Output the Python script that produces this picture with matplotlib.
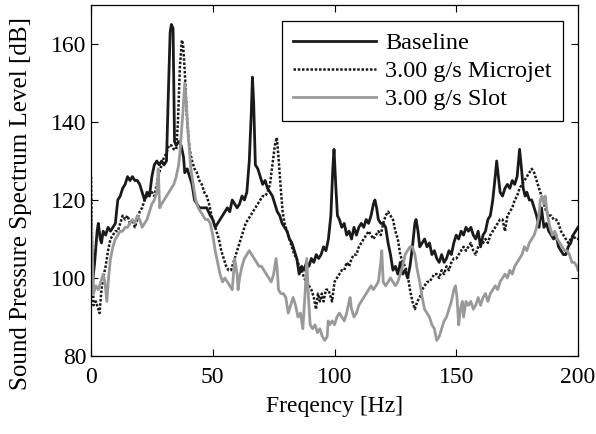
import numpy as np
import matplotlib
matplotlib.use("Agg")
import matplotlib.pyplot as plt

# Baseline (freq Hz, level dB)
base_f = [0, 0.5, 1.5, 2.5, 3, 3.8, 4.3, 5, 6, 7, 8, 9, 10, 11, 12, 13, 14, 15, 16, 17, 18, 19, 20,
          21, 22, 23, 24, 25, 26, 27, 28, 29, 30, 31, 31.7, 32.5, 33, 33.7, 34.3, 35, 36, 37, 38, 38.5,
          39.5, 40.5, 41.5, 42.5, 43.5, 44.5, 46, 47.5, 49, 50, 51, 52, 53, 54, 55, 56, 57, 58, 59, 60,
          61, 62, 63, 64, 65, 65.8, 66.3, 66.8, 67.5, 68.5, 69.5, 70.5, 71.5, 72.5, 73.5, 74.5, 75.5,
          76.5, 77.5, 78.5, 79.5, 80.5, 81.5, 82.5, 83.5, 84.5, 85.5, 86.5, 87.5, 88.5, 89.5, 90.5,
          91.5, 92.5, 93.5, 94.5, 95.5, 96.5, 97.5, 98.5, 99.3, 99.8, 100.5, 101.2, 102, 103, 104, 105,
          106, 107, 108, 109, 110, 111, 112, 113, 114, 115, 116, 116.6, 117.3, 118, 119, 120, 121, 122,
          123, 124, 125, 126, 127, 128, 129, 130, 131, 132, 133, 133.5, 134.3, 135, 136, 137, 138, 139,
          140, 141, 142, 143, 144, 145, 146, 147, 148, 149, 150, 151, 152, 153, 154, 155, 156, 157, 158,
          159, 160, 161, 162, 163, 164, 165, 166, 166.6, 167.3, 168, 169, 170, 171, 172, 173, 174, 175,
          176, 176.8, 177.5, 178.3, 179, 180, 181, 182, 183, 184, 185, 186, 187, 188, 189, 190, 191, 192,
          193, 194, 195, 196, 197, 198, 199, 200]
base_db = [100, 98, 104, 112, 114, 110, 109, 112, 111, 113, 112, 113, 114, 120, 121, 123, 124, 126, 125,
           126, 125, 125, 124, 122, 120, 122, 121, 126, 129, 130, 129, 130, 129, 130, 146, 163, 165, 164,
           135, 134, 135, 134, 131, 127, 128, 126, 124, 120, 119, 118, 118, 118, 116, 115, 113, 114, 115,
           116, 117, 118, 117, 120, 119, 118, 119, 121, 120, 122, 130, 142, 151.5, 145, 129, 128, 126,
           124, 125, 123, 122, 121, 119, 117, 116, 114, 113, 112, 110, 109, 107, 105, 101, 103, 102, 104,
           103, 105, 104, 106, 105, 106, 108, 107, 110, 116, 128, 133, 124, 116, 115, 113, 114, 111, 112,
           110, 113, 111, 113, 114, 113, 115, 114, 116, 119, 120, 118, 115, 114, 114, 113, 109, 106, 102,
           103, 101, 104, 101, 102, 100, 103, 108, 114, 115, 112, 108, 109, 110, 108, 109, 106, 107, 105,
           104, 106, 104, 105, 107, 106, 109, 111, 110, 112, 111, 113, 112, 113, 111, 110, 112, 108, 111,
           112, 115, 116, 120, 126, 130, 126, 122, 121, 123, 124, 123, 125, 124, 126, 133, 128, 123, 121,
           122, 120, 120, 118, 116, 113, 118, 113, 114, 112, 111, 110, 111, 108, 107, 106, 106, 108, 109,
           111, 112, 113]

# 3.00 g/s Microjet
mj_f = [0, 0.4, 1, 2, 3, 3.5, 4.3, 5, 6, 7, 8, 9, 10, 11, 12, 13, 14, 15, 16, 17, 18, 19, 20, 21, 22,
        23, 24, 25, 26, 27, 28, 29, 30, 31, 32, 33, 34, 35, 35.7, 36.5, 37.3, 37.8, 38.5, 39.5, 40.5,
        41.5, 42.5, 43.5, 44.5, 45.5, 46.5, 47.5, 48.5, 49.5, 50.5, 51.5, 52.5, 53.5, 54.5, 55.5, 56.5,
        57.5, 58.5, 59.5, 60.5, 61.5, 62.5, 63.5, 64.5, 65.5, 66.5, 67.5, 68.5, 69.5, 70.5, 71.5, 72.5,
        73.5, 74.5, 75.5, 76.3, 77, 77.8, 78.7, 79.5, 80.5, 81.5, 82.5, 83.5, 84.5, 85.5, 86.5, 87.5,
        88.5, 89.5, 90.5, 91.5, 92.4, 93.2, 94, 94.8, 95.5, 96.5, 97.5, 98.5, 99, 100, 101, 102, 103,
        104, 105, 106, 107, 108, 109, 110, 111, 112, 113, 114, 115, 116, 117, 118, 119, 120, 121, 122,
        123, 124, 125, 126, 127, 128, 129, 130, 131, 132, 133, 134, 135, 136, 137, 138, 139, 140, 141,
        142, 143, 144, 145, 146, 147, 148, 149, 150, 151, 152, 153, 154, 155, 156, 157, 158, 159, 160,
        161, 162, 163, 164, 165, 166, 167, 168, 169, 170, 171, 172, 173, 174, 175, 176, 177, 178, 179,
        180, 181, 182, 183, 184, 185, 186, 187, 188, 189, 190, 191, 192, 193, 194, 195, 196, 197, 198,
        199, 200]
mj_db = [126, 110, 93, 94, 92, 91, 97, 100, 103, 107, 110, 111, 112, 112, 114, 116, 115, 116, 114, 115,
         113, 115, 117, 118, 120, 121, 122, 122, 121, 124, 127, 129, 131, 132, 134, 134, 133, 133, 140,
         154, 161, 160, 153, 140, 133, 130, 128, 127, 125, 124, 122, 121, 119, 116, 114, 112, 110, 107,
         105, 103, 102, 102, 104, 106, 108, 110, 112, 114, 115, 116, 117, 118, 119, 120, 121, 121, 122,
         124, 129, 134, 136, 131, 124, 117, 114, 112, 110, 108, 106, 105, 103, 102, 100, 99, 98, 97, 95,
         92, 96, 94, 96, 94, 97, 97, 95, 94, 99, 100, 101, 102, 102, 104, 103, 105, 106, 106, 108, 109,
         110, 111, 112, 111, 110, 111, 112, 111, 114, 116, 117, 116, 115, 112, 110, 106, 104, 103, 101,
         97, 94, 92, 94, 95, 97, 98, 99, 99, 100, 101, 101, 100, 102, 101, 103, 102, 104, 105, 105, 106,
         107, 108, 107, 108, 109, 107, 106, 108, 109, 109, 110, 109, 111, 112, 113, 114, 115, 115, 112,
         116, 117, 118, 120, 121, 123, 124, 125, 126, 127, 128, 127, 125, 123, 121, 119, 117, 116, 116,
         115, 115, 114, 112, 111, 110, 109, 110, 111, 110, 110]

# 3.00 g/s Slot
sl_f = [0, 0.5, 1, 2, 3, 4, 5, 5.7, 6.5, 7.2, 8, 9, 10, 11, 12, 13, 14, 15, 16, 17, 18, 19, 20, 21, 22,
        23, 24, 25, 26, 27, 27.6, 28.2, 29, 30, 31, 32, 33, 34, 35, 36, 36.5, 37.2, 37.8, 38.5, 39.2,
        40, 41, 42, 43, 44, 45, 46, 47, 48, 49, 50, 51, 52, 53, 54, 55, 56, 57, 58, 59, 60, 60.4, 61, 62,
        63, 64, 65, 66, 67, 68, 69, 70, 71, 72, 73, 74, 75, 76, 76.5, 77, 78, 79, 80, 81, 82, 83, 84,
        85, 86, 87, 88, 88.6, 89.3, 90, 91, 92, 93, 94, 95, 96, 97, 97.4, 98, 99, 100, 101, 102, 103,
        104, 105, 106, 106.4, 107, 108, 109, 110, 111, 112, 113, 114, 115, 116, 117, 118, 119, 119.4,
        120, 121, 122, 123, 124, 125, 126, 127, 128, 129, 130, 131, 132, 133, 134, 135, 136, 137, 138,
        139, 140, 141, 142, 143, 144, 145, 146, 147, 148, 149, 149.7, 150.3, 151, 151.7, 152.5, 153,
        154, 155, 156, 157, 158, 159, 160, 161, 162, 163, 164, 165, 166, 167, 168, 169, 170, 171, 172,
        173, 174, 175, 176, 177, 178, 179, 180, 181, 182, 183, 184, 184.5, 185.2, 186, 186.5, 187.5,
        188.5, 189.5, 190.5, 191.5, 192.5, 193.5, 194.5, 195.5, 196.5, 197.5, 198.5, 199.5, 200]
sl_db = [117, 108, 96, 98, 97, 99, 101, 99, 94, 100, 105, 108, 110, 111, 112, 112, 113, 113, 114, 115,
         114, 116, 115, 113, 114, 115, 117, 119, 120, 122, 128, 118, 119, 120, 121, 122, 123, 124, 126,
         129, 132, 138, 143, 150, 144, 136, 128, 124, 120, 118, 117, 116, 115, 115, 114, 111, 107, 104,
         101, 99, 100, 99, 98, 97, 105, 101, 97, 100, 103, 105, 106, 107, 106, 105, 104, 103, 103, 102,
         101, 100, 99, 101, 105, 102, 97, 96, 96, 95, 91, 93, 95, 93, 90, 91, 87, 97, 105, 95, 88, 87,
         88, 86, 87, 85, 84, 85, 89, 88, 89, 88, 90, 91, 90, 89, 91, 94, 95, 92, 90, 91, 93, 94, 95, 96,
         97, 98, 97, 98, 99, 104, 107, 99, 98, 99, 100, 99, 98, 99, 101, 103, 106, 107, 108, 108, 106,
         102, 99, 95, 92, 91, 90, 88, 87, 84, 85, 87, 89, 90, 92, 94, 97, 98, 95, 88, 92, 94, 90, 94, 93,
         94, 92, 93, 95, 93, 95, 96, 94, 96, 97, 98, 97, 99, 100, 101, 100, 102, 101, 103, 104, 105, 106,
         108, 107, 109, 110, 111, 113, 116, 120, 121, 119, 121, 116, 113, 111, 112, 110, 109, 108, 107,
         107, 106, 104, 104, 103, 102]

labels = ["Baseline", "3.00 g/s Microjet", "3.00 g/s Slot"]

plt.rcParams['font.family'] = ['Liberation Serif', 'DejaVu Serif']

fig = plt.figure(figsize=(5.96, 4.34), dpi=100)
ax = fig.add_axes([0.1527, 0.1797, 0.8171, 0.8088])

ax.plot(base_f, base_db, color='#1a1a1a', lw=2.0, label=labels[0])
ax.plot(mj_f, mj_db, color='#1a1a1a', lw=1.8, linestyle=(0, (1, 0.7)), label=labels[1])
ax.plot(sl_f, sl_db, color='#999999', lw=2.0, label=labels[2])

ax.set_xlim(0, 200)
ax.set_ylim(80, 170)
ax.set_xticks([0, 50, 100, 150, 200])
ax.set_yticks([80, 100, 120, 140, 160])
ax.tick_params(direction='in', top=True, right=True, length=5, width=0.8, labelsize=17)
ax.tick_params(axis='x', pad=8)
for s in ax.spines.values():
    s.set_linewidth(0.9)

ax.set_xlabel("Freqency [Hz]", fontsize=17, labelpad=6)
# the y label sits a little below the axes centre in the reference
fig.text(0.036, 0.53, "Sound Pressure Spectrum Level [dB]", fontsize=18,
         rotation=90, ha='center', va='center')

leg = ax.legend(loc='upper right', bbox_to_anchor=(0.969, 0.954), borderaxespad=0,
                fancybox=False, edgecolor='black', framealpha=1, handlelength=3.4,
                handletextpad=0.4, labelspacing=0.25, borderpad=0.45, fontsize=17.5)
leg.get_frame().set_linewidth(0.9)

fig.savefig("out.png", dpi=100)
